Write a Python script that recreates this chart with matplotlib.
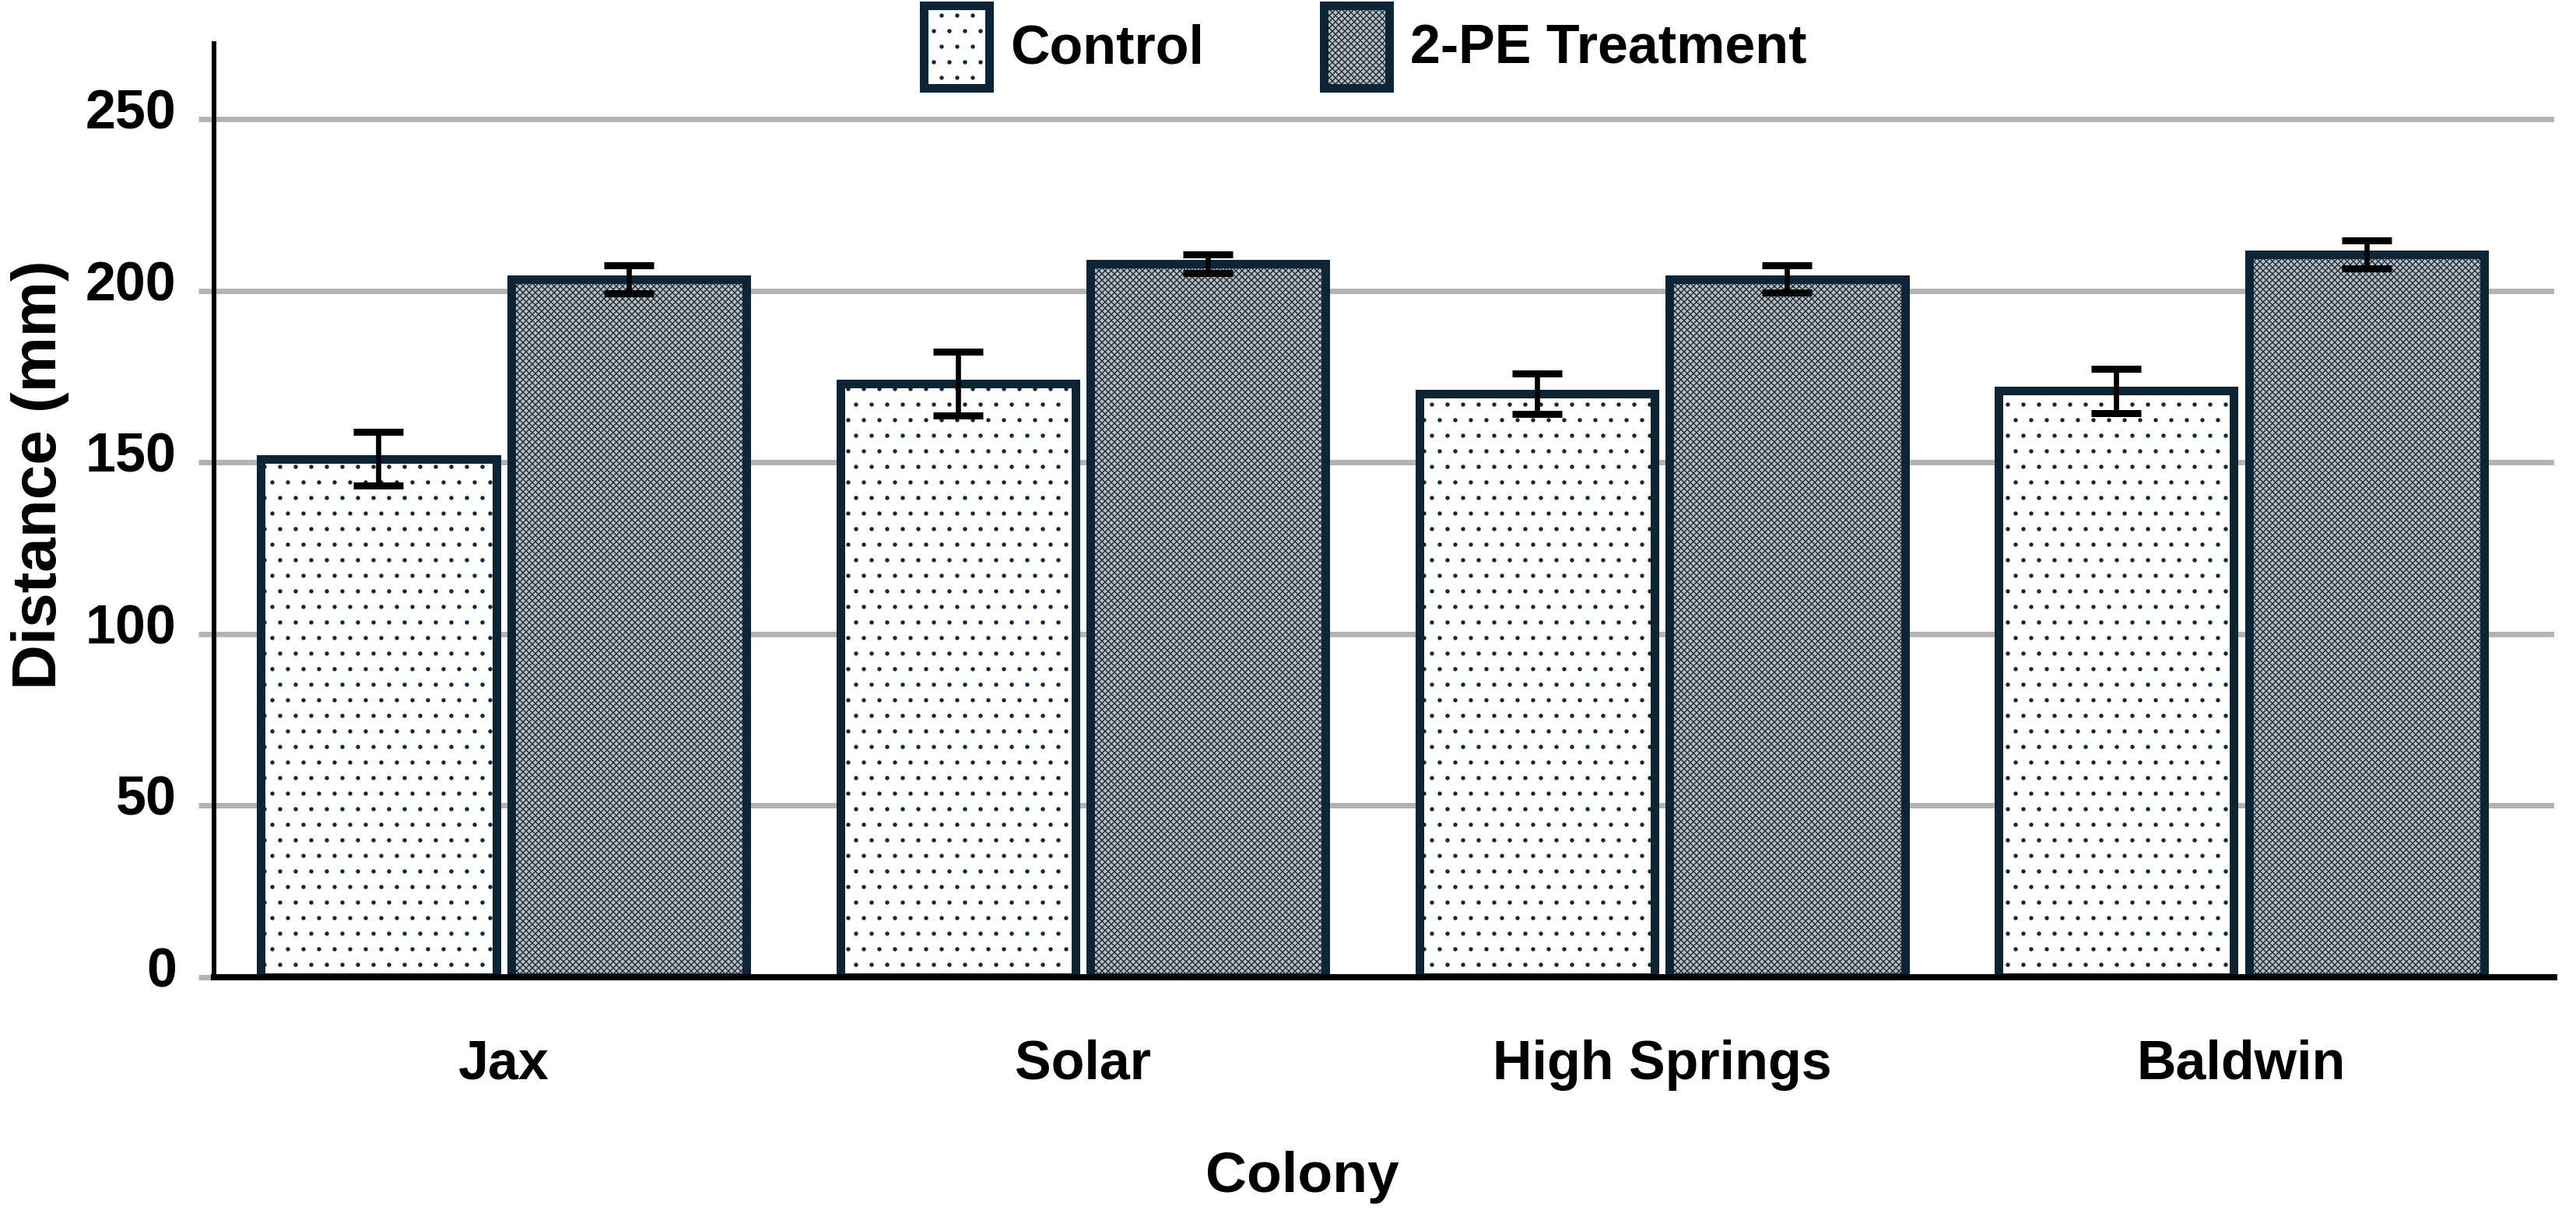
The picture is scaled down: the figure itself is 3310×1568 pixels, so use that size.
import matplotlib
matplotlib.use("Agg")
import matplotlib.pyplot as plt
import matplotlib.transforms as mtransforms
from matplotlib import font_manager
import numpy as np

# Data
colonies = ["Jax", "Solar", "High Springs", "Baldwin"]
control_mean = [151.0, 173.0, 170.0, 170.8]
control_err = [7.8, 9.3, 6.0, 6.4]
treat_mean = [203.3, 207.8, 203.4, 210.6]
treat_err = [4.0, 2.7, 4.0, 4.0]
yticks = [0, 50, 100, 150, 200, 250]

names = {f.name for f in font_manager.fontManager.ttflist}
if "Liberation Sans Narrow" in names:
    tick_family, tick_size = ["Liberation Sans Narrow", "Liberation Sans"], 24
else:
    tick_family, tick_size = ["Liberation Sans", "DejaVu Sans"], 21

plt.rcParams["font.family"] = ["Liberation Sans", "DejaVu Sans"]
plt.rcParams["font.weight"] = "bold"
plt.rcParams["hatch.linewidth"] = 0.4

DPI = 240
fig = plt.figure(figsize=(3310 / DPI, 1568 / DPI), dpi=DPI)
ax = fig.add_axes([0.0831, 0.199, 0.9084, 0.7653])

edge = "#0c2536"
x = np.arange(len(colonies))
w = 0.406
off = 0.216

ax.bar(x - off, control_mean, w, facecolor="white", edgecolor=edge,
       linewidth=3.3, hatch="..", label="Control", zorder=2)
ax.bar(x + off, treat_mean, w, facecolor="#bdbdbd", edgecolor=edge,
       linewidth=3.3, hatch="xxxxxxxxxx", label="2-PE Treatment", zorder=2)

ax.errorbar(x - off, control_mean, yerr=control_err, fmt="none", ecolor="black",
            elinewidth=2.0, capsize=9.6, capthick=2.7, zorder=3)
ax.errorbar(x + off, treat_mean, yerr=treat_err, fmt="none", ecolor="black",
            elinewidth=2.0, capsize=9.6, capthick=2.7, zorder=3)

ax.set_xlim(-0.5, 3.54)
ax.set_ylim(0, 272)
ax.set_yticks(yticks)
ax.set_xticks(x)
ax.set_xticklabels(colonies)

ax.set_axisbelow(True)
ax.grid(axis="y", color="#b3b3b3", linewidth=2.1)
ax.grid(axis="x", visible=False)

for s in ["top", "right"]:
    ax.spines[s].set_visible(False)
ax.spines["left"].set_color("black")
ax.spines["left"].set_linewidth(1.8)
ax.spines["bottom"].set_color("black")
ax.spines["bottom"].set_linewidth(2.4)
ax.spines["bottom"].set_zorder(4)

ax.tick_params(axis="y", length=6, width=2.1, color="#b3b3b3", pad=8.5)
ax.tick_params(axis="x", length=0, pad=24)
for lab in ax.get_yticklabels() + ax.get_xticklabels():
    lab.set_fontfamily(tick_family)
    lab.set_fontsize(tick_size)
    lab.set_fontweight("bold")
shift = mtransforms.ScaledTranslation(0, 13 / DPI, fig.dpi_scale_trans)
for lab in ax.get_yticklabels():
    lab.set_transform(lab.get_transform() + shift)

fig.text(0.0157, 0.611, "Distance (mm)", rotation=90, ha="center", va="center",
         fontsize=24, fontweight="bold")
fig.text(0.5055, 0.023, "Colony", ha="center", va="baseline",
         fontsize=22, fontweight="bold")

fig.legend(loc="center", bbox_to_anchor=(0.530, 0.962), ncol=2, frameon=False,
           fontsize=21, handlelength=1.2, handleheight=1.95, handletextpad=0.38,
           columnspacing=2.2, borderpad=0.2)

fig.savefig("out.png", dpi=DPI)
